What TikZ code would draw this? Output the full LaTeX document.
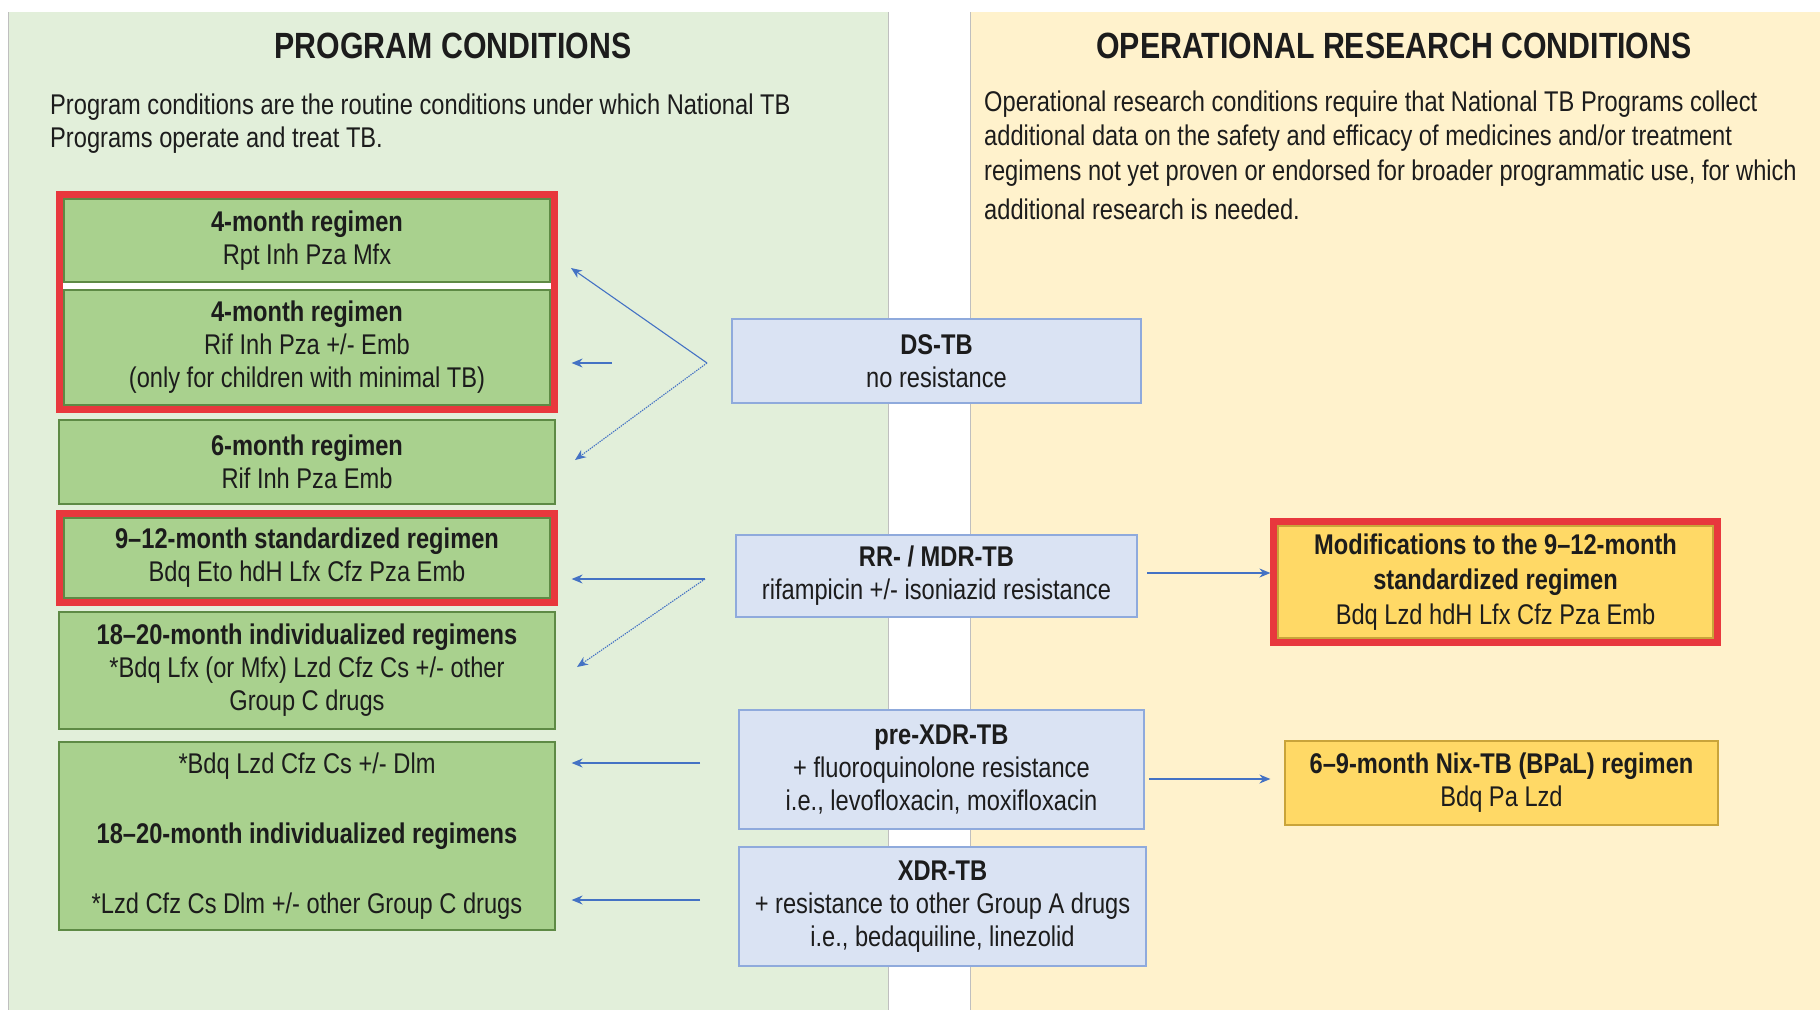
\documentclass[tikz,border=0pt]{standalone}
\usepackage{fontspec}
\setmainfont{Liberation Sans}[FakeStretch=0.83]
\usetikzlibrary{fit,arrows.meta,backgrounds}
\definecolor{panelG}{HTML}{E2EFDA}
\definecolor{panelY}{HTML}{FFF2CC}
\definecolor{boxG}{HTML}{A9D18E}
\definecolor{edgeG}{HTML}{5E8A45}
\definecolor{boxB}{HTML}{DAE3F3}
\definecolor{edgeB}{HTML}{8FAADC}
\definecolor{boxY}{HTML}{FFD966}
\definecolor{edgeY}{HTML}{C9A43A}
\definecolor{redF}{HTML}{E8383D}
\definecolor{arrowB}{HTML}{4472C4}
\definecolor{txt}{HTML}{1C1C1C}
\definecolor{panelEdge}{HTML}{BFBFBF}
\newcommand\myBody{\fontsize{28.5}{33}\selectfont}
\newcommand\myTitle{\fontsize{36.5}{40}\selectfont\bfseries}
\begin{document}
\begin{tikzpicture}[x=1pt,y=-1pt,
  every node/.style={text=txt},
  gbox/.style={draw=edgeG, fill=boxG, line width=1.2pt, rectangle, align=center, inner sep=0pt, font=\myBody},
  bbox/.style={draw=edgeB, fill=boxB, line width=1.6pt, rectangle, align=center, inner sep=0pt, font=\myBody},
  ybox/.style={draw=edgeY, fill=boxY, line width=1.2pt, rectangle, align=center, inner sep=0pt, font=\myBody},
  redframe/.style={draw=redF, line width=7pt, inner sep=3.5pt, fill=white, rectangle},
  arr/.style={draw=arrowB, line width=1.4pt, -{Stealth[length=11pt,width=9pt]}},
  dotarr/.style={arr, densely dotted},
  desc/.style={anchor=west, font=\myBody, inner sep=0pt},
  ttl/.style={font=\myTitle, inner sep=0pt}
]
\useasboundingbox (0,0) rectangle (1820,1010);
\begin{scope}[on background layer]
  \fill[white] (0,0) rectangle (1820,1010);
  \fill[panelG] (8,12) rectangle (888,1010);
  \draw[panelEdge, line width=1pt] (8,12) -- (8,1010) (888,12) -- (888,1010);
  \fill[panelY] (970,12) rectangle (1820,1010);
  \draw[panelEdge, line width=1pt] (970,12) -- (970,1010);
\end{scope}

% titles and descriptions
\node[ttl] (t1) at (453,46) {PROGRAM CONDITIONS};
\node[ttl] (t2) at (1394,46) {OPERATIONAL RESEARCH CONDITIONS};
\node[desc] (d1) at (50,107) {Program conditions are the routine conditions under which National TB};
\node[desc] (d2) at (50,140) {Programs operate and treat TB.};
\node[desc] (d3) at (984,104.5) {Operational research conditions require that National TB Programs collect};
\node[desc] (d4) at (984,138) {additional data on the safety and efficacy of medicines and/or treatment};
\node[desc] (d5) at (984,173) {regimens not yet proven or endorsed for broader programmatic use, for which};
\node[desc] (d6) at (984,209) {additional research is needed.};

% left regimen boxes
\node[gbox, minimum width=486pt, minimum height=83pt] (A) at (307,240.5)
  {\textbf{4-month regimen}\\Rpt Inh Pza Mfx};
\node[gbox, minimum width=486pt, minimum height=115pt] (B) at (307,347.5)
  {\textbf{4-month regimen}\\Rif Inh Pza +/- Emb\\(only for children with minimal TB)};
\node[gbox, minimum width=496pt, minimum height=84pt] (C) at (307,462)
  {\textbf{6-month regimen}\\Rif Inh Pza Emb};
\node[gbox, minimum width=486pt, minimum height=80pt] (D) at (307,558)
  {\textbf{9–12-month standardized regimen}\\Bdq Eto hdH Lfx Cfz Pza Emb};
\node[gbox, minimum width=496pt, minimum height=117pt] (E) at (307,670.5)
  {\textbf{18–20-month individualized regimens}\\*Bdq Lfx (or Mfx) Lzd Cfz Cs +/- other\\Group C drugs};
\node[gbox, minimum width=496pt, minimum height=188pt] (F) at (307,836)
  {*Bdq Lzd Cfz Cs +/- Dlm\\[37pt]\textbf{18–20-month individualized regimens}\\[37pt]*Lzd Cfz Cs Dlm +/- other Group C drugs};

% middle resistance boxes
\node[bbox, minimum width=409pt, minimum height=84pt] (ds) at (936.5,361)
  {\textbf{DS-TB}\\no resistance};
\node[bbox, minimum width=401pt, minimum height=82pt] (rr) at (936.5,576)
  {\textbf{RR- / MDR-TB}\\rifampicin +/- isoniazid resistance};
\node[bbox, minimum width=405pt, minimum height=119pt] (pre) at (941.5,769.5)
  {\textbf{pre-XDR-TB}\\+ fluoroquinolone resistance\\i.e., levofloxacin, moxifloxacin};
\node[bbox, minimum width=407pt, minimum height=119pt] (xdr) at (942.5,906.5)
  {\textbf{XDR-TB}\\+ resistance to other Group A drugs\\i.e., bedaquiline, linezolid};

% right boxes
\node[ybox, minimum width=435pt, minimum height=112pt] (mod) at (1495.5,582)
  {\textbf{Modifications to the 9–12-month}\\[2pt]\textbf{standardized regimen}\\[2pt]Bdq Lzd hdH Lfx Cfz Pza Emb};
\node[ybox, minimum width=433pt, minimum height=84pt] (nix) at (1501.5,783)
  {\textbf{6–9-month Nix-TB (BPaL) regimen}\\Bdq Pa Lzd};

% red frames
\begin{scope}[on background layer]
  \node[redframe, fit=(A)(B)] (R1) {};
  \node[redframe, fit=(D)] (R2) {};
  \node[redframe, fit=(mod)] (R3) {};
\end{scope}

% connector coordinates
\coordinate (apexDS) at (707,363);
\coordinate (tipA) at (571,268);
\coordinate (startB) at (612,363);
\coordinate (tipC) at (575,460);
\coordinate (apexRR) at (705,579);
\coordinate (tipE) at (577,667);
\coordinate (preStart) at (700,763);
\coordinate (xdrStart) at (700,900);
\coordinate (rrOut) at (1147,573);
\coordinate (preOut) at (1149,779);

% connectors
\draw[arr, line width=1.1pt] (apexDS) -- (tipA);
\draw[arr] (startB) -- ([xshift=14pt]startB -| R1.east);
\draw[dotarr, line width=1.1pt] (apexDS) -- (tipC);
\draw[arr] (apexRR) -- ([xshift=14pt]apexRR -| R2.east);
\draw[dotarr, line width=1.1pt] (apexRR) -- (tipE);
\draw[arr] (preStart) -- ([xshift=16pt]preStart -| F.east);
\draw[arr] (xdrStart) -- ([xshift=16pt]xdrStart -| F.east);
\draw[arr] (rrOut) -- (rrOut -| R3.west);
\draw[arr] (preOut) -- ([xshift=-14pt]preOut -| nix.west);
\end{tikzpicture}
\end{document}
